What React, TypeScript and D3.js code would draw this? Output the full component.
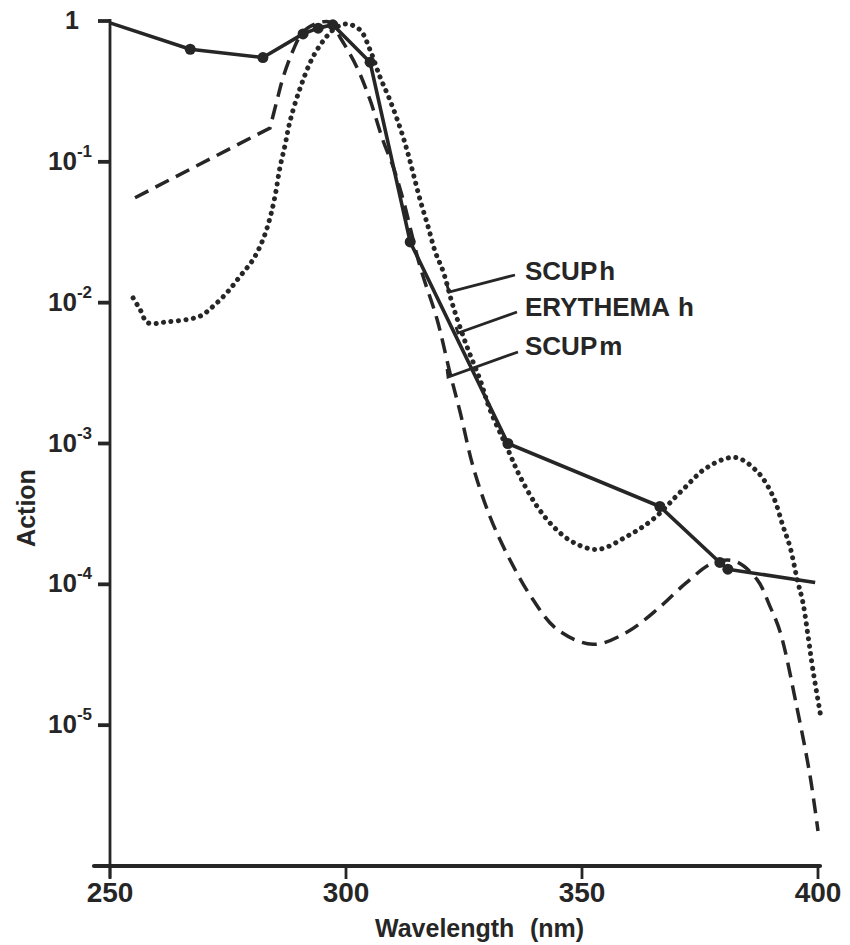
import React from "react";
import * as d3 from "d3";

// ---- data ----
const erythemaWl = [250, 267, 282.4, 290.9, 294.1, 297.2, 305.1, 313.6, 334.3, 366.5, 379.2, 380.9, 399.4];
const erythemaVal = [0.97, 0.63, 0.55, 0.81, 0.89, 0.94, 0.51, 0.027, 1.0e-3, 3.57e-4, 1.43e-4, 1.28e-4, 1.03e-4];

const scupmWl = [255.3, 283.9, 285.4, 286.7, 288.8, 290.7, 293.4, 296.6, 298.7, 302.3, 305.1, 307.8, 310, 312.1, 315.7, 319.3, 322, 324.2, 326.9, 330.5, 334.7, 339.6, 344.7, 352.3, 359.5, 366.5, 372, 377.8, 382.4, 387.1, 389.8, 392, 395.6, 398.3, 400];
const scupmVal = [0.0556, 0.174, 0.275, 0.4, 0.62, 0.82, 0.95, 0.98, 0.77, 0.47, 0.275, 0.143, 0.092, 0.054, 0.018, 7.6e-3, 3.2e-3, 1.66e-3, 6.9e-4, 3.03e-4, 1.5e-4, 7.8e-5, 4.8e-5, 3.75e-5, 4.57e-5, 6.9e-5, 1.02e-4, 1.42e-4, 1.46e-4, 1.08e-4, 7.0e-5, 4.57e-5, 1.3e-5, 4.4e-6, 1.77e-6];

const scuphWl = [254.9, 256.4, 258, 262, 269, 271.8, 274.8, 277.5, 280.3, 282.4, 283.9, 285.0, 286.0, 287.1, 288.1, 290.3, 293.0, 296.0, 298.1, 300.2, 303.0, 305.1, 307.2, 309.3, 311.4, 312.9, 314.2, 315.7, 317.4, 318.9, 320.6, 322.7, 325.6, 328.4, 330.5, 334.3, 336.9, 340.5, 343.9, 348.1, 353.4, 359.5, 365, 371.4, 376.5, 382.4, 387.1, 390.5, 392.6, 394.1, 395.6, 396.8, 397.9, 398.9, 400.5];
const scuphVal = [0.0108, 8.9e-3, 7.2e-3, 7.3e-3, 8.0e-3, 9.4e-3, 0.0118, 0.0153, 0.0202, 0.028, 0.04, 0.058, 0.091, 0.132, 0.192, 0.335, 0.556, 0.783, 0.906, 0.953, 0.863, 0.623, 0.401, 0.275, 0.177, 0.122, 0.0836, 0.0537, 0.0346, 0.023, 0.0166, 9.4e-3, 4.9e-3, 2.84e-3, 1.74e-3, 9.06e-4, 5.8e-4, 3.57e-4, 2.58e-4, 1.99e-4, 1.77e-4, 2.19e-4, 2.89e-4, 4.72e-4, 6.76e-4, 7.96e-4, 6.33e-4, 4.2e-4, 2.58e-4, 1.83e-4, 1.08e-4, 7.45e-5, 4.28e-5, 2.5e-5, 1.2e-5];

const xTicks = [250, 300, 350, 400];
const yTicks = [1, 1e-1, 1e-2, 1e-3, 1e-4, 1e-5];
const yTickExp = ["", "-1", "-2", "-3", "-4", "-5"];

const legendLabels = [
  { main: "SCUP", sub: "h", gap: "" },
  { main: "ERYTHEMA", sub: "h", gap: " " },
  { main: "SCUP", sub: "m", gap: "" },
];

const INK = "#262626";
const FONT = "'Liberation Sans', Arial, Helvetica, sans-serif";

export default function App() {
  const W = 850;
  const H = 945;
  const x = d3.scaleLinear().domain([250, 400]).range([110, 818]);
  const y = d3.scaleLog().domain([1e-6, 1]).range([866, 21]);

  const pts = (wl: number[], v: number[]) => wl.map((w, i) => [x(w), y(v[i])] as [number, number]);

  const eryPts = pts(erythemaWl, erythemaVal);
  const eryPath = d3.line().curve(d3.curveLinear)(eryPts) || "";

  const mPts = pts(scupmWl, scupmVal);
  const smooth = d3.line().curve(d3.curveCatmullRom.alpha(0.5))(mPts.slice(1)) || "";
  const mPath = `M${mPts[0][0]},${mPts[0][1]}L` + smooth.slice(1);

  const hPts = pts(scuphWl, scuphVal);
  const hPath = d3.line().curve(d3.curveCatmullRom.alpha(0.5))(hPts) || "";

  const xAxisY = y(1e-6);
  const axisX = x(250);

  const legendY = [280, 316, 355];
  const leaders = [
    { x1: 447, y1: 285, x2: 449, y2: 292, x3: 515, y3: 275 },
    { x1: 456, y1: 327, x2: 458, y2: 333, x3: 517, y3: 312 },
    { x1: 447, y1: 369, x2: 448, y2: 377, x3: 518, y3: 352 },
  ];

  return (
    <svg
      width={W}
      height={H}
      viewBox={`0 0 ${W} ${H}`}
      style={{ position: "absolute", left: 0, top: 0, background: "#fff" }}
      fontFamily={FONT}
      fontWeight="bold"
    >
      <rect x={0} y={0} width={W} height={H} fill="#fff" />

      {/* axes */}
      <line x1={axisX} y1={19} x2={axisX} y2={xAxisY + 12} stroke={INK} strokeWidth={2.8} />
      <line x1={94} y1={xAxisY} x2={x(400) + 2} y2={xAxisY} stroke={INK} strokeWidth={4.2} strokeLinecap="round" />
      {xTicks.map((t) => (
        <g key={t}>
          <line x1={x(t)} y1={xAxisY} x2={x(t)} y2={xAxisY + 13} stroke={INK} strokeWidth={2.8} />
          <text x={x(t)} y={xAxisY + 36} textAnchor="middle" fontSize={28} fill={INK}>
            {t}
          </text>
        </g>
      ))}
      {yTicks.map((t, i) => (
        <g key={t}>
          <line x1={axisX - 12} y1={y(t)} x2={axisX} y2={y(t)} stroke={INK} strokeWidth={3.8} />
          {i === 0 ? (
            <text x={79} y={y(t) + 8} textAnchor="end" fontSize={25} fill={INK}>
              1
            </text>
          ) : (
            <text x={48} y={y(t) + 8} fontSize={26} fill={INK}>
              10
              <tspan dy={-13} fontSize={17}>
                {yTickExp[i]}
              </tspan>
            </text>
          )}
        </g>
      ))}

      <text transform="translate(35,508) rotate(-90)" textAnchor="middle" fontSize={25} fill={INK}>
        Action
      </text>
      <text x={375} y={937} fontSize={25} fill={INK}>
        Wavelength
      </text>
      <text x={530} y={937} fontSize={25} fill={INK}>
        (nm)
      </text>

      {/* curves */}
      <path d={mPath} fill="none" stroke={INK} strokeWidth={3.5} strokeDasharray="15 8" />
      <path d={hPath} fill="none" stroke={INK} strokeWidth={5} strokeDasharray="0.1 7.4" strokeLinecap="round" />
      <path d={eryPath} fill="none" stroke={INK} strokeWidth={3.6} strokeLinejoin="round" />
      {eryPts.slice(1, -1).map((p, i) => (
        <circle key={i} cx={p[0]} cy={p[1]} r={5.5} fill={INK} />
      ))}

      {/* leader lines and labels */}
      {leaders.map((l, i) => (
        <polyline
          key={i}
          points={`${l.x1},${l.y1} ${l.x2},${l.y2} ${l.x3},${l.y3}`}
          fill="none"
          stroke={INK}
          strokeWidth={2.8}
        />
      ))}
      {legendLabels.map((l, i) => (
        <text key={i} x={525} y={legendY[i]} fontSize={26} fill={INK}>
          {l.main}
          {l.gap ? <tspan dx={8}>{l.sub}</tspan> : <tspan dx={2}>{l.sub}</tspan>}
        </text>
      ))}
    </svg>
  );
}
